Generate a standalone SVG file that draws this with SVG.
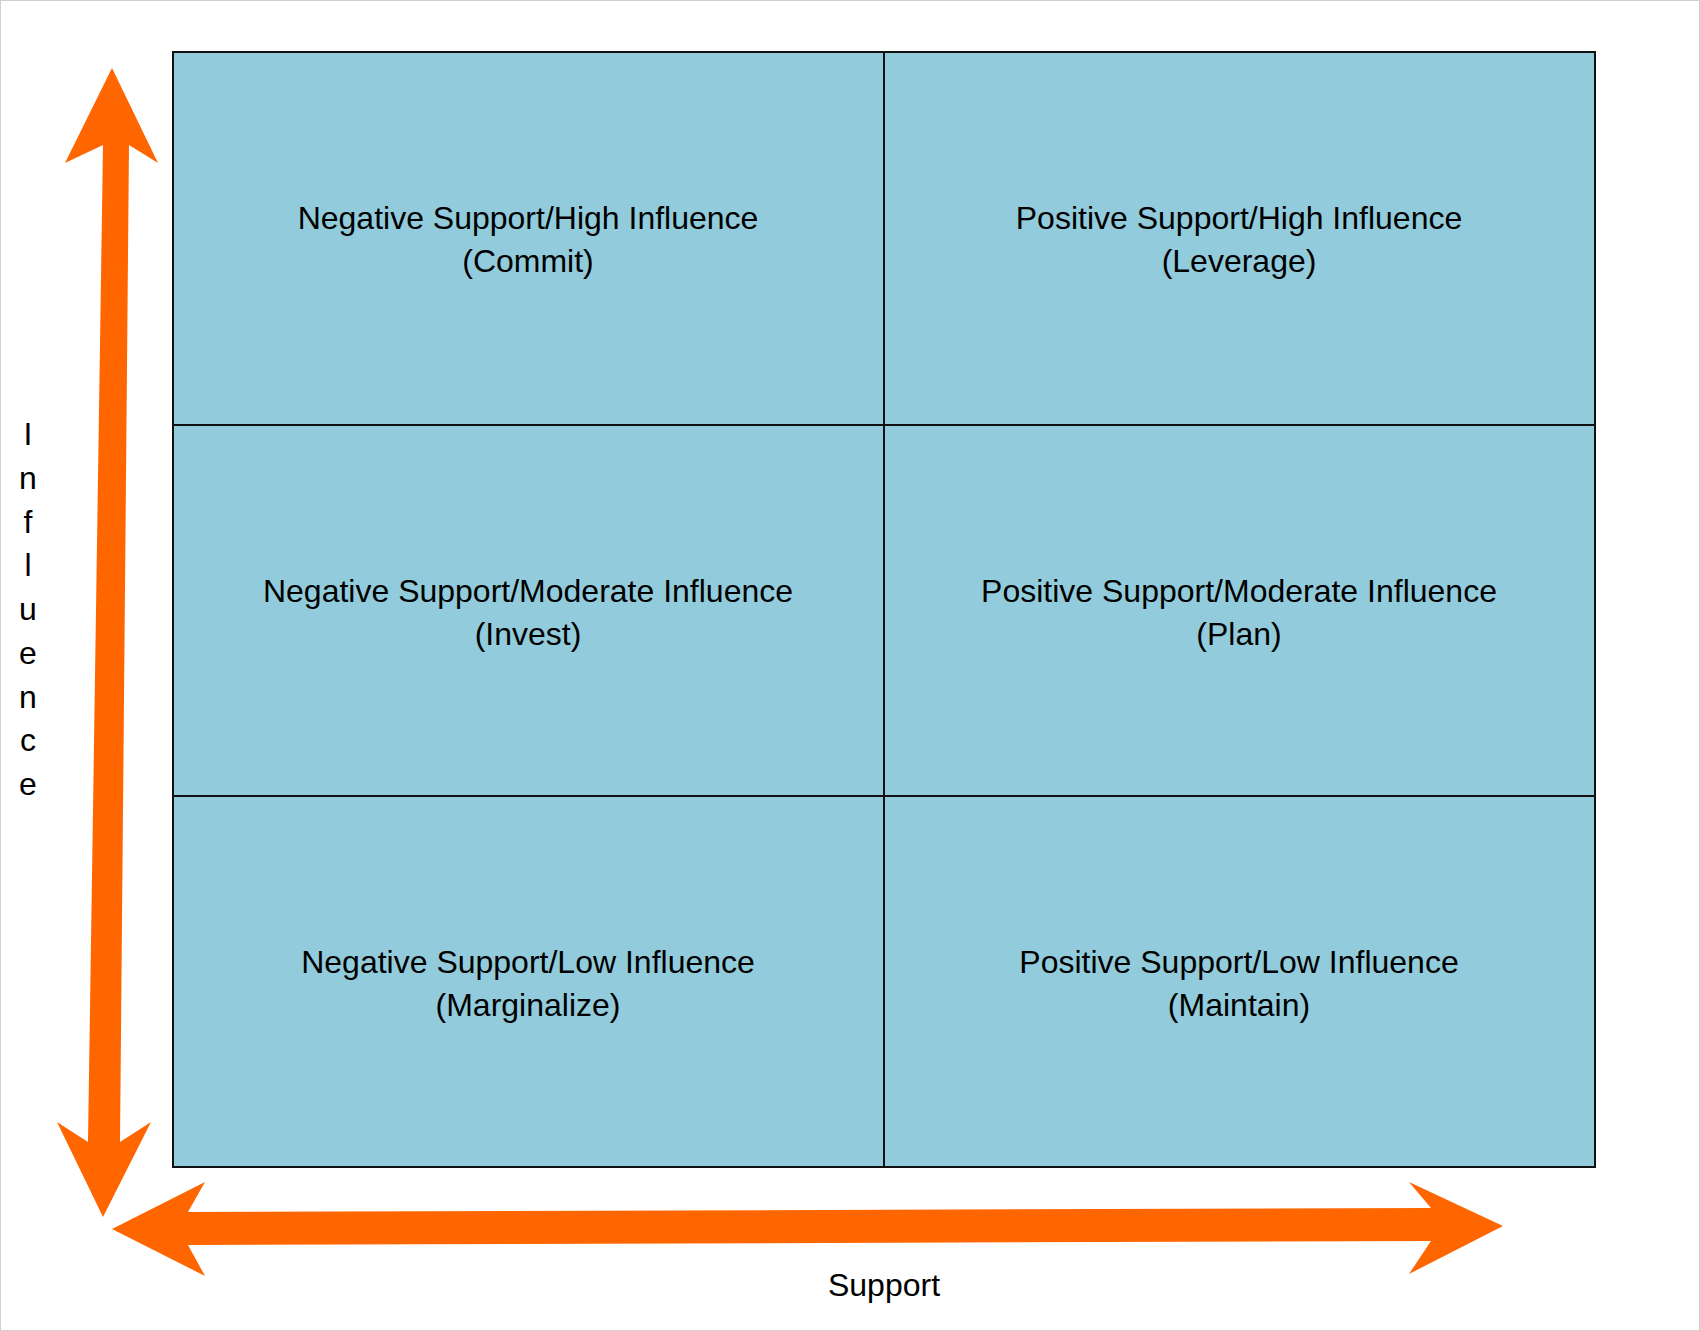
<svg xmlns="http://www.w3.org/2000/svg" width="1700" height="1331" viewBox="0 0 1700 1331">
<style>
.cell{fill:#92CCDC;stroke:#111;stroke-width:2}
.t{font-family:"Liberation Sans",Arial,sans-serif;font-size:32px;fill:#000;text-anchor:middle}
.arr{fill:#FF6600}
</style>
<rect x="0.5" y="0.5" width="1699" height="1330" fill="#fff" stroke="#d0d0d0"/>
<g id="connectors">
<polygon class="arr" points="112,68 158,163 129,145 120,1142 151,1122 103,1217 57,1122 88,1142 103,145 65,163"/>
<polygon class="arr" points="112,1229 205,1182 188,1212 1431,1208 1409,1182 1503,1226 1409,1274 1431,1241 188,1245 205,1276"/>
</g>
<g id="n1"><rect class="cell" x="173" y="52" width="711" height="373"/><text class="t" x="528" y="229">Negative Support/High Influence</text><text class="t" x="528" y="272">(Commit)</text></g>
<g id="n2"><rect class="cell" x="884" y="52" width="711" height="373"/><text class="t" x="1239" y="229">Positive Support/High Influence</text><text class="t" x="1239" y="272">(Leverage)</text></g>
<g id="n3"><rect class="cell" x="173" y="425" width="711" height="371"/><text class="t" x="528" y="602">Negative Support/Moderate Influence</text><text class="t" x="528" y="645">(Invest)</text></g>
<g id="n4"><rect class="cell" x="884" y="425" width="711" height="371"/><text class="t" x="1239" y="602">Positive Support/Moderate Influence</text><text class="t" x="1239" y="645">(Plan)</text></g>
<g id="n5"><rect class="cell" x="173" y="796" width="711" height="371"/><text class="t" x="528" y="973">Negative Support/Low Influence</text><text class="t" x="528" y="1016">(Marginalize)</text></g>
<g id="n6"><rect class="cell" x="884" y="796" width="711" height="371"/><text class="t" x="1239" y="973">Positive Support/Low Influence</text><text class="t" x="1239" y="1016">(Maintain)</text></g>
<g id="labels">
<text class="t" x="884" y="1296">Support</text>
<text class="t" x="28"><tspan x="28" y="445">I</tspan><tspan x="28" y="489">n</tspan><tspan x="28" y="533">f</tspan><tspan x="28" y="576">l</tspan><tspan x="28" y="620">u</tspan><tspan x="28" y="664">e</tspan><tspan x="28" y="708">n</tspan><tspan x="28" y="751">c</tspan><tspan x="28" y="795">e</tspan></text>
</g>
</svg>
